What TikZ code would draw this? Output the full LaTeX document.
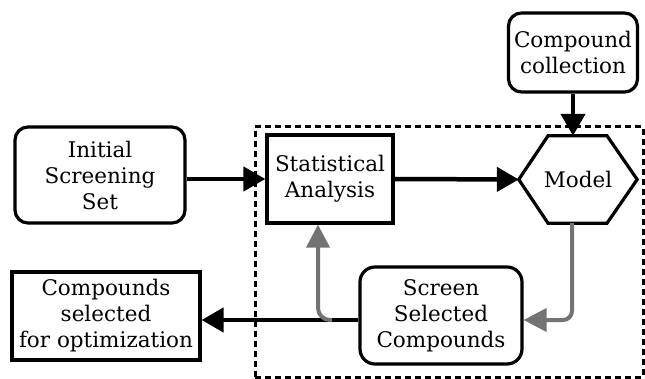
\documentclass[tikz,border=0pt]{standalone}
\usepackage{fontspec}
\setmainfont{DejaVu Serif}
\usetikzlibrary{arrows.meta}
\begin{document}
\begin{tikzpicture}[x=1pt,y=-1pt,
  txt/.style={align=center,font=\fontsize{21.5}{26}\selectfont,inner sep=0pt},
  rbox/.style={txt,draw,line width=3.2pt,rounded corners=13pt},
  sbox/.style={txt,draw,line width=3.2pt},
  blk/.style={line width=4.5pt,-{Triangle[length=22pt,width=24pt]}},
  gry/.style={draw=black!55,line width=4pt,-{Triangle[length=23pt,width=23pt]}},
  frame/.style={draw,line width=3pt,dash pattern=on 6pt off 4pt}]
\useasboundingbox (0,0) rectangle (645,379);
\node[frame,minimum width=388pt,minimum height=250pt] (loop) at (449,252) {};
\node[rbox,minimum width=129pt,minimum height=79pt] (cc) at (573,52.5) {Compound\\collection};
\node[rbox,minimum width=170pt,minimum height=96pt] (init) at (100,175) {Initial\\Screening\\Set};
\node[sbox,minimum width=126pt,minimum height=88pt] (stat) at (330,179) {Statistical\\Analysis};
\node[txt,minimum width=118pt,minimum height=87pt] (model) at (578,179.5) {Model};
\draw[line width=3.2pt,line join=miter]
  (model.west) -- ([xshift=-30pt]model.north) -- ([xshift=29pt]model.north)
  -- (model.east) -- ([xshift=29pt]model.south) -- ([xshift=-30pt]model.south) -- cycle;
\node[rbox,rounded corners=15pt,minimum width=162pt,minimum height=97pt] (screen) at (441,315.5) {Screen\\Selected\\Compounds};
\node[sbox,minimum width=188pt,minimum height=88pt] (opt) at (106,316) {Compounds\\selected\\for optimization};
\coordinate (ly) at (0,320);
\coordinate (gx) at (318,0);
\coordinate (mx) at (572,0);
\draw[blk] (init.east |- stat.west) -- (stat.west);
\draw[blk] (stat.east) -- (model.west);
\draw[blk] (cc.south) -- (cc.south |- model.north);
\draw[blk] (screen.west |- ly) -- (opt.east |- ly);
\draw[gry,rounded corners=9pt] (mx |- model.south) -- (mx |- ly) -- (screen.east |- ly);
\draw[gry,rounded corners=12pt] (332,320) -- (gx |- ly) -- (gx |- stat.south);
\end{tikzpicture}
\end{document}
